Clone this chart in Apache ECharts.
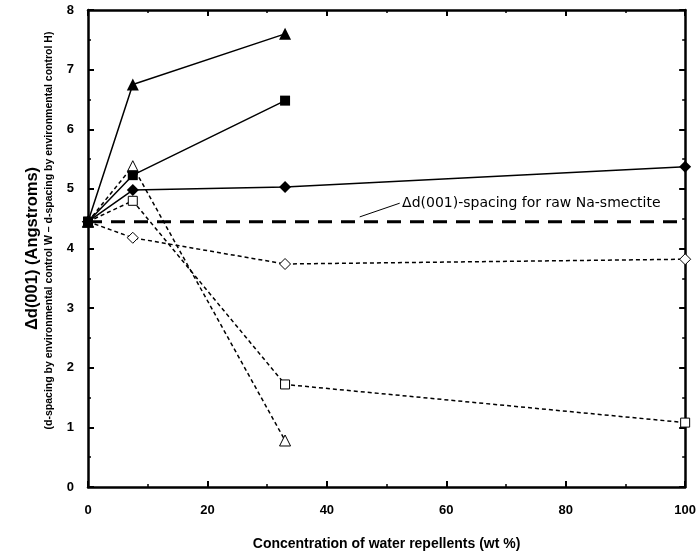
<!DOCTYPE html>
<html>
<head>
<meta charset="utf-8">
<script src="https://cdn.jsdelivr.net/npm/echarts@6/dist/echarts.min.js"></script>
<style>
  html, body { margin: 0; padding: 0; background: #fff; }
  #chart { width: 699px; height: 556px; }
</style>
</head>
<body>
<div id="chart"></div>
<script>
// Δd(001) vs concentration of water repellents

const xTicks = [0, 20, 40, 60, 80, 100];
const yTicks = [0, 1, 2, 3, 4, 5, 6, 7, 8];

const rawNaSmectite = 4.45;

// solid lines, filled markers
const filledTriangle = [[0, 4.45], [7.5, 6.75], [33, 7.6]];
const filledSquare   = [[0, 4.45], [7.5, 5.23], [33, 6.48]];
const filledDiamond  = [[0, 4.45], [7.5, 4.98], [33, 5.03], [100, 5.37]];

// dotted lines, open markers
const openTriangle = [[0, 4.45], [7.5, 5.38], [33, 0.78]];
const openSquare   = [[0, 4.45], [7.5, 4.8], [33, 1.72], [100, 1.08]];
const openDiamond  = [[0, 4.45], [7.5, 4.18], [33, 3.74], [100, 3.82]];

const annotationText = 'Δd(001)-spacing for raw Na-smectite';
const annotationAt = [52.6, 4.76];
const arrowFrom = [52.2, 4.76];
const arrowTo = [45.5, 4.53];

const FONT = '"Liberation Sans", Arial, sans-serif';

const chart = echarts.init(document.getElementById('chart'));

function solidSeries(data, symbol, size) {
  return {
    type: 'line', data, symbol, symbolSize: size,
    lineStyle: { color: '#000', width: 1.5 },
    itemStyle: { color: '#000', borderWidth: 0 },
    z: 5
  };
}

function dottedSeries(data, symbol, size) {
  return {
    type: 'line', data, symbol, symbolSize: size, showAllSymbol: true,
    lineStyle: { color: '#000', width: 1.5, type: [4, 3] },
    itemStyle: { color: '#fff', borderColor: '#000', borderWidth: 1 },
    z: 4
  };
}

const axisBase = {
  type: 'value',
  axisLine: { show: true, onZero: false, lineStyle: { color: '#000', width: 2.5 } },
  axisTick: { show: true, inside: true, length: 6, lineStyle: { color: '#000', width: 2 } },
  minorTick: { show: true, splitNumber: 2, length: 3, lineStyle: { color: '#000', width: 1.5 } },
  splitLine: { show: false },
  minorSplitLine: { show: false }
};

chart.setOption({
  animation: false,
  backgroundColor: '#fff',
  textStyle: { fontFamily: FONT },
  grid: { left: 88, right: 13, top: 10, bottom: 66 },
  xAxis: [
    Object.assign({}, axisBase, {
      min: xTicks[0], max: xTicks[xTicks.length - 1], interval: 20,
      axisLabel: { color: '#000', fontSize: 13, fontWeight: 'bold', fontFamily: FONT, margin: 17 },
      name: 'Concentration of water repellents (wt %)',
      nameLocation: 'middle', nameGap: 50,
      nameTextStyle: { color: '#000', fontSize: 14, fontWeight: 'bold', fontFamily: FONT }
    }),
    Object.assign({}, axisBase, {
      position: 'top', min: 0, max: 100, interval: 20,
      axisLabel: { show: false }
    })
  ],
  yAxis: [
    Object.assign({}, axisBase, {
      min: yTicks[0], max: yTicks[yTicks.length - 1], interval: 1,
      axisLabel: { color: '#000', fontSize: 13, fontWeight: 'bold', fontFamily: FONT, margin: 14 },
      name: '{a|Δd(001) (Angstroms)}\n{b|(d-spacing by environmental control W – d-spacing by environmental control H)}',
      nameLocation: 'middle', nameGap: 33, nameRotate: 90,
      nameTextStyle: {
        color: '#000', fontFamily: FONT, align: 'center',
        rich: {
          a: { fontSize: 16.5, fontWeight: 'bold', fontFamily: FONT, color: '#000', lineHeight: 22 },
          b: { fontSize: 10.5, fontWeight: 'bold', fontFamily: FONT, color: '#000', lineHeight: 12, padding: [0, 0, 0, 36] }
        }
      }
    }),
    Object.assign({}, axisBase, {
      position: 'right', min: 0, max: 8, interval: 1,
      axisLabel: { show: false }
    })
  ],
  series: [
    {
      type: 'line',
      data: [[0, rawNaSmectite], [100, rawNaSmectite]],
      symbol: 'none',
      lineStyle: { color: '#000', width: 3, type: [14, 9] },
      z: 3,
      markLine: {
        silent: true,
        symbol: ['none', 'arrow'], symbolSize: [0, 7],
        lineStyle: { color: '#000', width: 1, type: 'solid' },
        label: { show: false },
        data: [[{ coord: arrowFrom }, { coord: arrowTo }]]
      },
      markPoint: {
        silent: true,
        symbol: 'circle', symbolSize: 0,
        label: {
          show: true, position: 'right', distance: 0,
          formatter: annotationText,
          color: '#000', fontSize: 14, fontFamily: '"DejaVu Sans", sans-serif'
        },
        data: [{ coord: annotationAt }]
      }
    },
    solidSeries(filledTriangle, 'triangle', 12),
    solidSeries(filledSquare, 'rect', 10),
    solidSeries(filledDiamond, 'diamond', 12),
    dottedSeries(openTriangle, 'triangle', 11),
    dottedSeries(openSquare, 'rect', 9),
    dottedSeries(openDiamond, 'diamond', 11)
  ]
});

window.addEventListener('resize', () => chart.resize());
</script>
</body>
</html>
